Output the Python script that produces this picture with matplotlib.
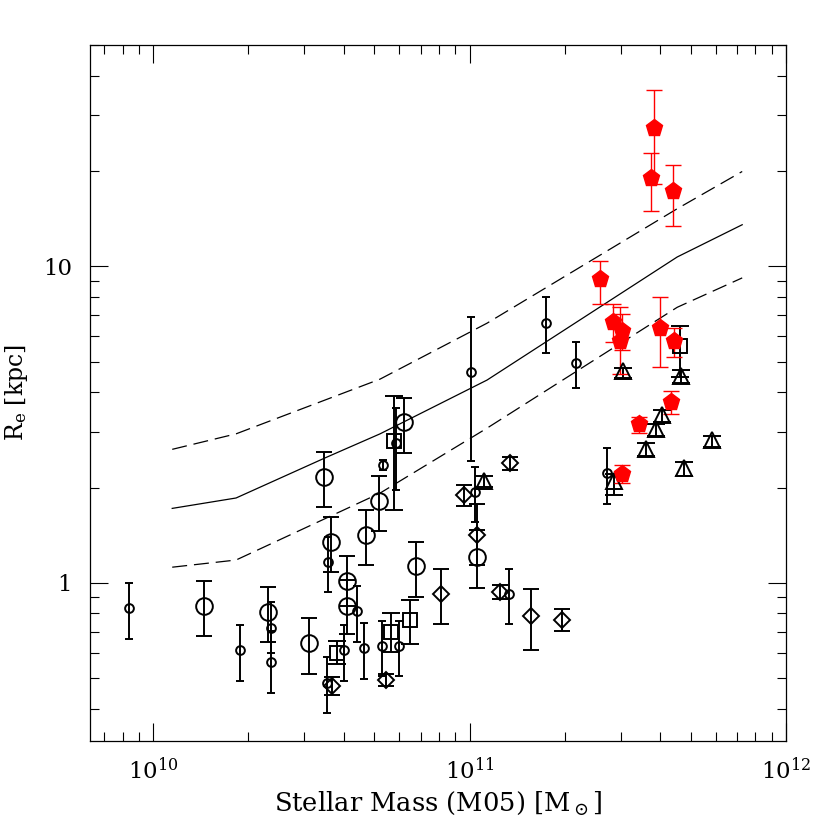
import matplotlib
matplotlib.use("Agg")
import matplotlib.pyplot as plt
import numpy as np
from matplotlib.ticker import LogLocator, FuncFormatter, NullFormatter

plt.rcParams['font.family'] = ['DejaVu Serif']
plt.rcParams['mathtext.fontset'] = 'dejavuserif'

# modelo: relacion media y dispersion
mod_x = [1.148e10, 1.827e10, 3.49e10, 5.21e10, 1.135e11, 4.53e11, 7.27e11]
mod_y = [1.718, 1.853, 2.48, 2.955, 4.37, 10.70, 13.53]
sup_x = [1.148e10, 1.827e10, 5.21e10, 1.135e11, 4.53e11, 7.27e11]
sup_y = [2.64, 2.955, 4.40, 6.61, 15.2, 19.93]
inf_x = [1.148e10, 1.827e10, 5.21e10, 1.135e11, 4.53e11, 7.27e11]
inf_y = [1.12, 1.18, 1.92, 3.08, 7.42, 9.19]

# circulos pequenos
sc_x = [8.40e9, 1.885e10, 2.352e10, 2.352e10, 3.563e10, 3.553e10, 4.022e10, 4.42e10,
        4.626e10, 5.275e10, 5.961e10, 5.305e10, 5.833e10, 1.0125e11, 1.037e11,
        1.336e11, 1.749e11, 2.171e11, 2.708e11]
sc_y = [0.834, 0.613, 0.721, 0.562, 1.161, 0.482, 0.613, 0.814, 0.623, 0.631, 0.631,
        2.360, 2.774, 4.644, 1.935, 0.923, 6.627, 4.958, 2.222]
sc_lo = [0.666, 0.490, 0.599, 0.450, 0.932, 0.387, 0.490, 0.650, 0.498, 0.508, 0.508,
         2.276, 1.968, 2.417, 1.552, 0.739, 5.331, 4.117, 1.778]
sc_hi = [1.00, 0.735, 0.869, 0.702, 1.399, 0.582, 0.734, 0.976, 0.748, 0.757, 0.757,
         2.447, 3.576, 6.89, 2.321, 1.107, 8.002, 5.773, 2.664]

# circulos grandes
bc_x = [1.447e10, 2.301e10, 3.098e10, 3.476e10, 3.642e10, 4.093e10, 4.093e10,
        4.701e10, 5.152e10, 6.181e10, 6.78e10, 1.055e11]
bc_y = [0.844, 0.810, 0.644, 2.158, 1.347, 1.012, 0.844, 1.413, 1.808, 3.231, 1.128, 1.207]
bc_lo = [0.677, 0.650, 0.514, 1.731, 1.080, 0.842, 0.687, 1.134, 1.454, 2.569, 0.903, 0.966]
bc_hi = [1.012, 0.971, 0.772, 2.588, 1.614, 1.219, 1.017, 1.694, 2.167, 3.845, 1.347, 1.472]

# cuadrados
sq_x = [3.805e10, 5.641e10, 5.778e10, 6.492e10, 4.609e11]
sq_y = [0.602, 0.701, 2.795, 0.762, 5.608]
sq_lo = [0.553, 0.604, 1.702, 0.639, 4.478]
sq_hi = [0.655, 0.800, 3.893, 0.880, 6.484]

# rombos
dm_x = [3.677e10, 5.438e10, 8.136e10, 9.572e10, 1.055e11, 1.244e11, 1.339e11,
        1.568e11, 1.954e11]
dm_y = [0.472, 0.492, 0.923, 1.898, 1.420, 0.934, 2.389, 0.785, 0.764]
dm_lo = [0.443, 0.471, 0.743, 1.743, 1.134, 0.890, 2.276, 0.613, 0.702]
dm_hi = [0.504, 0.514, 1.107, 2.040, 1.778, 0.983, 2.495, 0.953, 0.824]

# triangulos
tr_x = [1.113e11, 2.856e11, 3.058e11, 3.597e11, 3.869e11, 4.043e11, 4.643e11,
        4.755e11, 5.85e11]
tr_y = [2.101, 2.101, 4.668, 2.650, 3.064, 3.392, 4.501, 2.300, 2.829]
tr_lo = [2.007, 1.898, 4.436, 2.519, 2.912, 3.224, 4.279, 2.167, 2.689]
tr_hi = [2.167, 2.210, 4.770, 2.768, 3.177, 3.517, 4.701, 2.399, 2.912]

# pentagonos rojos
rd_x = [3.822e11, 3.751e11, 4.402e11, 2.582e11, 2.843e11, 3.036e11, 2.983e11,
        3.993e11, 4.421e11, 4.316e11, 3.426e11, 3.036e11]
rd_y = [27.29, 18.94, 17.23, 9.100, 6.676, 6.253, 5.816, 6.390, 5.802, 3.735, 3.177, 2.210]
rd_lo = [18.22, 14.94, 13.37, 7.627, 5.773, 5.436, 4.566, 4.794, 5.178, 3.409, 2.970, 2.066]
rd_hi = [36.06, 22.82, 20.96, 10.37, 7.587, 7.058, 7.425, 7.969, 6.390, 4.046, 3.350, 2.348]


def puntos(ax, x, y, lo, hi, marker, ms, cap, color='k', lw=1.4, filled=False):
    y = np.array(y)
    yerr = [y - np.array(lo), np.array(hi) - y]
    ax.errorbar(x, y, yerr=yerr, fmt='none', ecolor=color, elinewidth=lw,
                capsize=cap, capthick=lw, zorder=3)
    ax.plot(x, y, linestyle='none', marker=marker, ms=ms,
            mfc=color if filled else 'none', mec=color, mew=lw, zorder=4)


fig = plt.figure(figsize=(8.3, 8.3), dpi=100)
ax = fig.add_axes([0.1084, 0.1072, 0.8386, 0.8389])
ax.set_xscale('log')
ax.set_yscale('log')

ax.plot(mod_x, mod_y, 'k-', lw=0.9)
ax.plot(sup_x, sup_y, 'k', lw=0.9, linestyle=(0, (12, 5.5)))
ax.plot(inf_x, inf_y, 'k', lw=0.9, linestyle=(0, (12, 5.5)))

puntos(ax, sc_x, sc_y, sc_lo, sc_hi, 'o', 6.3, 3.2)
puntos(ax, bc_x, bc_y, bc_lo, bc_hi, 'o', 12, 5.8)
puntos(ax, sq_x, sq_y, sq_lo, sq_hi, 's', 9.5, 6.3)
puntos(ax, dm_x, dm_y, dm_lo, dm_hi, 'D', 8.4, 6.0)
puntos(ax, tr_x, tr_y, tr_lo, tr_hi, '^', 12.0, 6.2)
puntos(ax, rd_x, rd_y, rd_lo, rd_hi, 'p', 12.8, 6.0, color='#ff0000', lw=1.0, filled=True)

ax.set_xlim(10 ** 9.8, 1e12)
ax.set_ylim(10 ** -0.5, 10 ** 1.7)

ax.xaxis.set_major_locator(LogLocator(base=10, numticks=10))
ax.xaxis.set_minor_locator(LogLocator(base=10, subs=np.arange(2, 10), numticks=20))
ax.yaxis.set_major_locator(LogLocator(base=10, numticks=10))
ax.yaxis.set_minor_locator(LogLocator(base=10, subs=np.arange(2, 10), numticks=20))
ax.yaxis.set_major_formatter(FuncFormatter(lambda v, p: '%g' % v))
ax.xaxis.set_minor_formatter(NullFormatter())
ax.yaxis.set_minor_formatter(NullFormatter())

ax.tick_params(which='both', direction='in', top=True, right=True, width=0.8,
               labelsize=16.5)
ax.tick_params(which='major', length=13)
ax.tick_params(which='minor', length=6.5)
ax.tick_params(axis='x', which='major', pad=12)
ax.tick_params(axis='y', which='major', pad=13)
for s in ax.spines.values():
    s.set_linewidth(0.9)

ax.set_xlabel(r'Stellar Mass (M05) [M$_\odot$]', fontsize=18.5, labelpad=4)
ax.set_ylabel(r'R$_{\rm e}$ [kpc]', fontsize=17, labelpad=9)

fig.savefig('out.png', dpi=100)
